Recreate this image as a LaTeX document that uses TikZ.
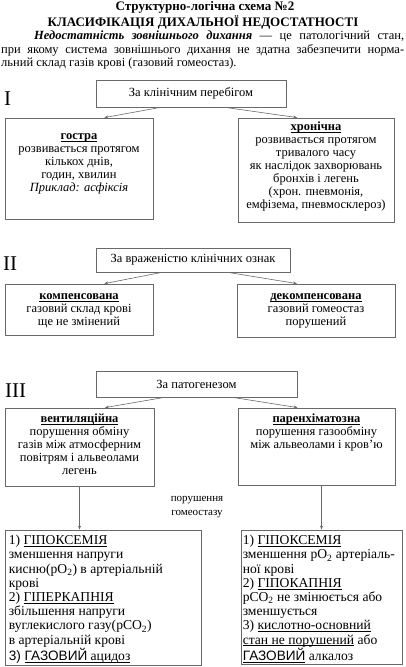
\documentclass[tikz,border=0pt]{standalone}
\usepackage{fontspec}
\setmainfont{Liberation Serif}
\newfontfamily\arialfont{Liberation Sans}
\usepackage{xcolor}
\definecolor{ramka}{RGB}{105,105,105}
\usetikzlibrary{arrows.meta,positioning,calc}
% underline close to the baseline
\newcommand{\pidkr}[1]{\setbox0=\hbox{#1}\rlap{\vrule height -1.3pt depth 1.9pt width \wd0}\box0\relax}

\tikzset{
  box/.style={draw=ramka, line width=0.8pt, inner sep=0pt,
    font=\fontsize{12.5}{13}\selectfont},
  txt/.style={font=\fontsize{12.5}{13}\selectfont, align=center,
    anchor=north, inner sep=0pt},
  dovid/.style={font=\fontsize{13.6}{14.2}\selectfont, align=left,
    anchor=north west, inner sep=0pt},
  arr/.style={draw=ramka, line width=0.6pt, -{Stealth[length=4pt,width=3pt]}},
  rimska/.style={font=\fontsize{21}{21}\selectfont, anchor=base west, inner sep=0pt},
}

\begin{document}
\begin{tikzpicture}[x=1pt, y=-1pt]
  \useasboundingbox (0,0) rectangle (406,667);

  % title and definition
  \node[font=\bfseries\fontsize{13}{14}\selectfont, anchor=base] (nazva1) at (205,10.5)
    {Структурно-логічна схема №2};
  \node[font=\bfseries\fontsize{13}{14}\selectfont, anchor=base] (nazva2) at (203,26)
    {КЛАСИФІКАЦІЯ ДИХАЛЬНОЇ НЕДОСТАТНОСТІ};
  \node[font=\fontsize{12.5}{14}\selectfont, anchor=base west, inner sep=0pt] (rjadok1) at (34,39.5)
    {\makebox[370pt][s]{\textbf{\textit{Недостатність зовнішнього дихання}} — це патологічний стан,}};
  \node[font=\fontsize{12.5}{14}\selectfont, anchor=base west, inner sep=0pt] (rjadok2) at (1,53)
    {\makebox[403pt][s]{при якому система зовнішнього дихання не здатна забезпечити норма-}};
  \node[font=\fontsize{12.5}{14}\selectfont, anchor=base west, inner sep=0pt] (rjadok3) at (1,66.5)
    {льний склад газів крові (газовий гомеостаз).};

  % I
  \node[rimska] (numI) at (4,105) {I};
  \node[box, minimum width=190pt, minimum height=27pt] (hdrI) at (191,93.5) {За клінічним перебігом};
  \node[box, minimum width=148pt, minimum height=101pt] (leftI) at (79,168.5) {};
  \node[box, minimum width=156pt, minimum height=104pt] (rightI) at (316,170) {};
  \node[txt] (tleftI) at ([yshift=-13pt]leftI.north)
    {\strut\textbf{\pidkr{гостра}}\\ розвивається протягом\\ кількох днів,\\ годин, хвилин\\ \textit{Приклад: асфіксія}};
  \node[txt] (trightI) at ([yshift=-4pt]rightI.north)
    {\strut\textbf{\pidkr{хронічна}}\\ розвивається протягом\\ тривалого часу\\ як наслідок захворювань\\ бронхів і легень\\ (хрон. пневмонія,\\ емфізема, пневмосклероз)};

  % II
  \node[rimska] (numII) at (3,270) {II};
  \node[box, minimum width=194pt, minimum height=24pt] (hdrII) at (193,260) {За враженістю клінічних ознак};
  \node[box, minimum width=148pt, minimum height=51pt] (leftII) at (79,309.5) {};
  \node[box, minimum width=158pt, minimum height=53pt] (rightII) at (316,310.5) {};
  \node[txt] (tleftII) at ([yshift=-7pt]leftII.north)
    {\strut\textbf{\pidkr{компенсована}}\\ газовий склад крові\\ ще не змінений};
  \node[txt] (trightII) at ([yshift=-7pt]rightII.north)
    {\strut\textbf{\pidkr{декомпенсована}}\\ газовий гомеостаз\\ порушений};

  % III
  \node[rimska] (numIII) at (5,397) {III};
  \node[box, minimum width=201pt, minimum height=26pt] (hdrIII) at (196.5,384) {За патогенезом};
  \node[box, minimum width=149pt, minimum height=78pt] (leftIII) at (79.5,447) {};
  \node[box, minimum width=157pt, minimum height=77pt] (rightIII) at (316.5,446.5) {};
  \node[txt] (tleftIII) at ([yshift=-6pt]leftIII.north)
    {\strut\textbf{\pidkr{вентиляційна}}\\ порушення обміну\\ газів між атмосферним\\ повітрям і альвеолами\\ легень};
  \node[txt] (trightIII) at ([yshift=-6pt]rightIII.north)
    {\strut\textbf{\pidkr{паренхіматозна}}\\ порушення газообміну\\ між альвеолами і кров’ю};

  \node[font=\fontsize{11}{14}\selectfont, align=center] (gomeo) at (197,507)
    {порушення\\ гомеостазу};

  % lower boxes
  \node[box, minimum width=196pt, minimum height=135pt] (nyzA) at (103,597.5) {};
  \node[box, minimum width=161pt, minimum height=134pt] (nyzB) at (321.5,597) {};
  \node[dovid] (tnyzA) at ([xshift=4pt,yshift=-5pt]nyzA.north west)
    {\strut 1) \pidkr{ГІПОКСЕМІЯ}\\
     зменшення напруги\\
     кисню(pO\textsubscript{2}) в артеріальній\\
     крові\\
     2) \pidkr{ГІПЕРКАПНІЯ}\\
     збільшення напруги\\
     вуглекислого газу(pCO\textsubscript{2})\\
     в артеріальній крові\\
     {\arialfont 3) \pidkr{ГАЗОВИЙ}}\pidkr{ ацидоз}};
  \node[dovid] (tnyzB) at ([xshift=2pt,yshift=-5pt]nyzB.north west)
    {\strut 1) \pidkr{ГІПОКСЕМІЯ}\\
     зменшення pO\textsubscript{2} артеріаль-\\
     ної крові\\
     2) \pidkr{ГІПОКАПНІЯ}\\
     pCO\textsubscript{2} не змінюється або\\
     зменшується\\
     3) \pidkr{кислотно-основний}\\
     \pidkr{стан не порушений} або\\
     {\arialfont\pidkr{ГАЗОВИЙ}} алкалоз};

  % connectors
  \foreach \lv in {I,II,III}{
    \draw[arr] ($(hdr\lv.south west)!0.34!(hdr\lv.south east)$) -- ($(left\lv.north west)!0.67!(left\lv.north east)$);
    \draw[arr] ($(hdr\lv.south west)!0.68!(hdr\lv.south east)$) -- ($(right\lv.north west)!0.38!(right\lv.north east)$);
  }
  \draw[arr] (leftIII.south) -- (leftIII.south |- nyzA.north);
  \draw[arr] (nyzB.north |- rightIII.south) -- (nyzB.north);
\end{tikzpicture}
\end{document}
